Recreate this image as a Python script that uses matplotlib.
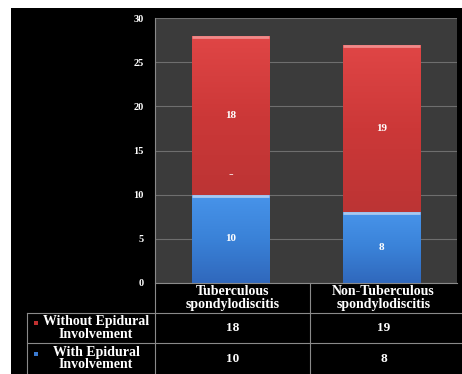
import numpy as np
import matplotlib.pyplot as plt
from matplotlib.colors import LinearSegmentedColormap
from matplotlib.lines import Line2D
from matplotlib.patches import Rectangle

# data
groups = ['Tuberculous\nspondylodiscitis', 'Non-Tuberculous\nspondylodiscitis']
series_names = ['Without Epidural\nInvolvement', 'With Epidural\nInvolvement']
with_epidural = [10, 8]
without_epidural = [18, 19]
yticks = [0, 5, 10, 15, 20, 25, 30]

W, H = 462, 374
plt.rcParams['font.family'] = ['Liberation Serif', 'DejaVu Serif']
plt.rcParams['font.weight'] = 'bold'

fig = plt.figure(figsize=(W / 100, H / 100), dpi=100, facecolor='white')

# black backdrop inside the white border
fig.patches.append(Rectangle((11 / W, 0), 1 - 11 / W, 1 - 8 / H, transform=fig.transFigure,
                             facecolor='black', edgecolor='none', zorder=-10))

x0, x1, y_top, y_zero = 155, 457, 18, 283
ax = fig.add_axes([x0 / W, 1 - y_zero / H, (x1 - x0) / W, (y_zero - y_top) / H])
ax.set_facecolor('#3b3b3b')
ax.set_yticks(yticks)
ax.set_xticks([])
ax.tick_params(axis='y', length=0, pad=8, labelcolor='white', labelsize=7.5)
for s in ax.spines.values():
    s.set_visible(False)
ax.grid(axis='y', color='#6e6e6e', linewidth=0.8)
ax.set_axisbelow(True)

red_cmap = LinearSegmentedColormap.from_list('r', ['#bc3434', '#cc3838', '#e04646'])
blue_cmap = LinearSegmentedColormap.from_list('b', ['#3068bc', '#3a82d8', '#4894ea'])

xpos = np.arange(len(groups))
width = 0.51
grad = np.linspace(0, 1, 256).reshape(-1, 1)


def grad_bar(x, bottom, height, cmap, edge):
    bar = ax.bar(x, height, width, bottom=bottom, color='none', edgecolor='none', zorder=2)[0]
    im = ax.imshow(grad, cmap=cmap, aspect='auto', origin='lower', zorder=2,
                   extent=[x - width / 2, x + width / 2, bottom, bottom + height])
    im.set_clip_path(bar)
    # light strip along the top of the segment
    ax.plot([x - width / 2, x + width / 2], [bottom + height - 0.12] * 2,
            color=edge, linewidth=2, zorder=3, solid_capstyle='butt')


for i in xpos:
    grad_bar(i, 0, with_epidural[i], blue_cmap, '#a8c8f0')
    grad_bar(i, with_epidural[i], without_epidural[i], red_cmap, '#f08a8a')
    ax.text(i, with_epidural[i] / 2, str(with_epidural[i]), color='white',
            ha='center', va='center', fontsize=8)
    ax.text(i, with_epidural[i] + without_epidural[i] / 2, str(without_epidural[i]),
            color='white', ha='center', va='center', fontsize=8)
ax.text(xpos[0], 12.3, '-', color='white', ha='center', va='center', fontsize=10)
ax.set_xlim(-0.5, 1.5)
ax.set_ylim(0, 30)


# data table underneath the chart
def fx(px):
    return px / W


def fy(py):
    return 1 - py / H


line_c = '#8a8a8a'
col_edges = [155, 310, 457]
row_edges = [283, 313, 343, 374]
lines = [
    ([155, 457], [283, 283]),
    ([27, 462], [313, 313]),
    ([27, 462], [343, 343]),
    ([27, 27], [313, 374]),
    ([155, 155], [18, 374]),
    ([310, 310], [283, 374]),
]
for xs, ys in lines:
    fig.add_artist(Line2D([fx(v) for v in xs], [fy(v) for v in ys],
                          color=line_c, linewidth=0.8, transform=fig.transFigure))

for j, g in enumerate(groups):
    cx = (col_edges[j] + col_edges[j + 1]) / 2
    fig.text(fx(cx), fy((row_edges[0] + row_edges[1]) / 2), g, color='white',
             ha='center', va='center', fontsize=10, linespacing=0.95)
    fig.text(fx(cx), fy((row_edges[1] + row_edges[2]) / 2), str(without_epidural[j]),
             color='white', ha='center', va='center', fontsize=9.5)
    fig.text(fx(cx), fy((row_edges[2] + row_edges[3]) / 2), str(with_epidural[j]),
             color='white', ha='center', va='center', fontsize=9.5)

legend_colors = ['#c03030', '#3a7ad0']
for k, name in enumerate(series_names):
    cy = (row_edges[k + 1] + row_edges[k + 2]) / 2
    fig.text(fx(96), fy(cy), name, color='white', ha='center', va='center',
             fontsize=10, linespacing=0.95)
    fig.patches.append(Rectangle((fx(34), fy(cy - 3)), 4 / W, 4 / H, transform=fig.transFigure,
                                 facecolor=legend_colors[k], edgecolor='none'))

fig.savefig('out.png', dpi=100, facecolor='white')
